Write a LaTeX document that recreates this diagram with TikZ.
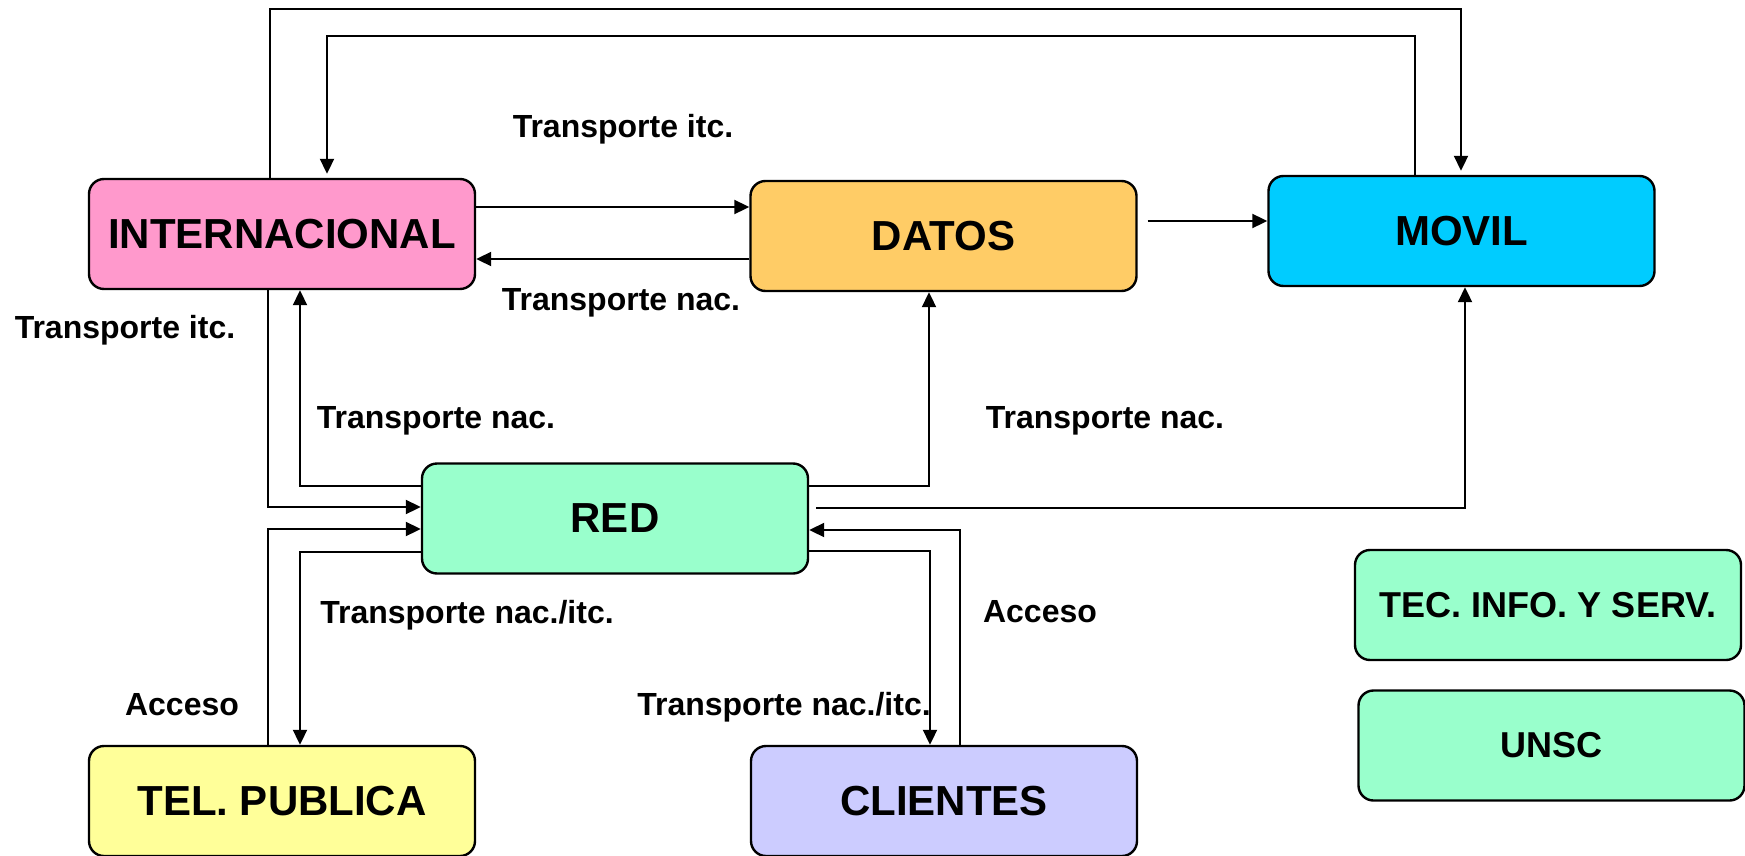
\documentclass[tikz,border=0pt]{standalone}
\usepackage{fontspec}
\setmainfont{Liberation Sans}
\usetikzlibrary{arrows.meta}
\definecolor{cpink}{HTML}{FF99CC}
\definecolor{corange}{HTML}{FFCC66}
\definecolor{ccyan}{HTML}{00CCFF}
\definecolor{cgreen}{HTML}{99FFCC}
\definecolor{cyellow}{HTML}{FFFF99}
\definecolor{clav}{HTML}{CCCCFF}
\begin{document}
\begin{tikzpicture}[x=0.5pt,y=-0.5pt,
  box/.style={draw=black, line width=1.2pt, rounded corners=7.5pt,
    minimum width=193pt, minimum height=55pt, inner sep=0pt,
    font=\fontsize{21}{25}\selectfont\bfseries},
  smallbox/.style={box, font=\fontsize{18}{22}\selectfont\bfseries},
  lbl/.style={font=\fontsize{16}{19}\selectfont\bfseries, anchor=base, inner sep=0pt},
  arr/.style={line width=1pt, -{Triangle[length=7.5pt,width=7pt]}}]
\useasboundingbox (0,0) rectangle (1745,856);

% boxes
\node[box, fill=cpink]   (intl)  at (282,234)    {INTERNACIONAL};
\node[box, fill=corange] (datos) at (943.5,236)  {DATOS};
\node[box, fill=ccyan]   (movil) at (1461.5,231) {MOVIL};
\node[box, fill=cgreen]  (red)   at (615,518.5)  {RED};
\node[box, fill=cyellow] (tel)   at (282,801)    {TEL. PUBLICA};
\node[box, fill=clav]    (cli)   at (944,801)    {CLIENTES};
\node[smallbox, fill=cgreen] (tec)  at (1548,605)    {TEC. INFO. Y SERV.};
\node[smallbox, fill=cgreen] (unsc) at (1551.5,745.5) {UNSC};

% turning points and levels of the connectors
\coordinate (a1) at (270,9);   \coordinate (a2) at (1461,9);
\coordinate (b1) at (1415,36); \coordinate (b2) at (327,36);
\coordinate (yc) at (0,207);   \coordinate (yd) at (0,259);
\coordinate (ye) at (0,221);
\coordinate (f) at (268,507);  \coordinate (g) at (300,486);
\coordinate (h) at (929,486);  \coordinate (i) at (1465,508);
\coordinate (j) at (268,529);  \coordinate (k) at (300,552);
\coordinate (l) at (960,530);  \coordinate (m) at (930,551);

% connectors
\draw[arr] (intl.north -| a1) -- (a1) -- (a2) -- ([yshift=2pt]movil.north -| a2);
\draw[arr] (movil.north -| b1) -- (b1) -- (b2) -- ([yshift=2pt]intl.north -| b2);
\draw[arr] (intl.east |- yc) -- (datos.west |- yc);
\draw[arr] (datos.west |- yd) -- (intl.east |- yd);
\draw[arr] ([xshift=5pt]datos.east |- ye) -- (movil.west |- ye);
\draw[arr] (intl.south -| f) -- (f) -- (red.west |- f);
\draw[arr] (red.west |- g) -- (g) -- (intl.south -| g);
\draw[arr] (red.east |- h) -- (h) -- (datos.south -| h);
\draw[arr] ([xshift=3.5pt]red.east |- i) -- (i) -- (movil.south -| i);
\draw[arr] (tel.north -| j) -- (j) -- (red.west |- j);
\draw[arr] (red.west |- k) -- (k) -- (tel.north -| k);
\draw[arr] (cli.north -| l) -- (l) -- (red.east |- l);
\draw[arr] (red.east |- m) -- (m) -- (cli.north -| m);

% labels
\node[lbl] (l1) at (623,138)  {Transporte itc.};
\node[lbl] (l2) at (621,310)  {Transporte nac.};
\node[lbl] (l3) at (125,338)  {Transporte itc.};
\node[lbl] (l4) at (436,428)  {Transporte nac.};
\node[lbl] (l5) at (1105,428) {Transporte nac.};
\node[lbl] (l6) at (467,623)  {Transporte nac./itc.};
\node[lbl] (l7) at (1040,622) {Acceso};
\node[lbl] (l8) at (182,715)  {Acceso};
\node[lbl] (l9) at (784,715)  {Transporte nac./itc.};
\end{tikzpicture}
\end{document}
